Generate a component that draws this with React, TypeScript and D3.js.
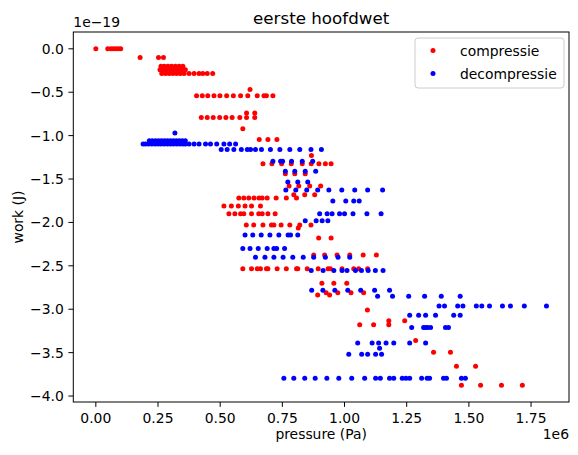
import * as d3 from "d3"

// pressure in 1e6 Pa, work in 1e-19 J; each row = one work level and its pressures
const compressieRows: [number, number[]][] = [
  [0, [0, 0.048, 0.06, 0.07, 0.08, 0.09, 0.1]],
  [-0.1, [0.178, 0.252, 0.272]],
  [-0.2, [0.262, 0.275, 0.29, 0.305, 0.32, 0.335, 0.35]],
  [-0.24, [0.258, 0.27, 0.285, 0.3, 0.315, 0.33, 0.345, 0.36]],
  [-0.285, [0.265, 0.28, 0.295, 0.31, 0.325, 0.34, 0.355, 0.375, 0.395, 0.415, 0.43, 0.448, 0.47]],
  [-0.47, [0.62]],
  [-0.54, [0.405, 0.428, 0.45, 0.475, 0.499, 0.526, 0.553, 0.582, 0.611, 0.649, 0.676, 0.686, 0.712]],
  [-0.74, [0.606, 0.639]],
  [-0.79, [0.424, 0.448, 0.472, 0.498, 0.523, 0.548, 0.579, 0.606, 0.639]],
  [-0.92, [0.591]],
  [-1.046, [0.657, 0.692, 0.728]],
  [-1.23, [0.867]],
  [-1.323, [0.672, 0.708, 0.747, 0.786, 0.83, 0.866, 0.897, 0.923, 0.946]],
  [-1.44, [0.762, 0.8, 0.842]],
  [-1.58, [0.777, 0.816, 0.86, 0.904]],
  [-1.68, [0.796, 0.84, 0.88]],
  [-1.72, [0.575, 0.595, 0.615, 0.636, 0.656, 0.669, 0.689, 0.725, 0.766, 0.807]],
  [-1.81, [0.515, 0.545, 0.573, 0.6, 0.626, 0.662]],
  [-1.9, [0.535, 0.559, 0.582, 0.595, 0.626, 0.655, 0.669, 0.692, 0.721]],
  [-2.03, [0.605, 0.635, 0.672, 0.706, 0.716, 0.745, 0.78, 0.82, 0.865]],
  [-2.065, [0.814]],
  [-2.18, [0.896, 0.946]],
  [-2.376, [0.876, 0.92, 0.97, 1.021, 1.075, 1.128]],
  [-2.534, [0.591, 0.626, 0.649, 0.662, 0.686, 0.692, 0.729, 0.766, 0.807, 0.812, 0.85, 0.894, 0.934, 0.943, 0.99, 1.037, 1.057, 1.093]],
  [-2.7, [0.909, 0.957, 1.009]],
  [-2.81, [0.926, 0.973, 1.026, 1.077]],
  [-2.835, [0.892, 0.94]],
  [-3.01, [1.092]],
  [-3.134, [1.178, 1.242]],
  [-3.18, [1.061, 1.117, 1.178]],
  [-3.36, [1.286]],
  [-3.495, [1.358, 1.426]],
  [-3.656, [1.45, 1.527]],
  [-3.875, [1.47, 1.547, 1.631, 1.715]],
]

const decompressieRows: [number, number[]][] = [
  [-0.97, [0.318]],
  [-1.058, [0.215, 0.227, 0.24, 0.252, 0.264, 0.276, 0.288, 0.3, 0.312, 0.324, 0.336, 0.348, 0.36]],
  [-1.096, [0.19, 0.2, 0.212, 0.225, 0.238, 0.25, 0.262, 0.275, 0.288, 0.3, 0.312, 0.325, 0.338, 0.35, 0.36, 0.375, 0.395, 0.415, 0.441, 0.461, 0.486, 0.515, 0.538, 0.562]],
  [-1.16, [0.504, 0.528, 0.555, 0.585, 0.609, 0.622, 0.642, 0.666, 0.702, 0.74, 0.78, 0.82, 0.865, 0.907]],
  [-1.295, [0.712, 0.743, 0.751, 0.787, 0.83, 0.872]],
  [-1.41, [0.762, 0.8, 0.842, 0.884]],
  [-1.534, [0.772, 0.812, 0.852]],
  [-1.626, [0.764, 0.804, 0.848, 0.892, 0.937, 0.989, 1.041, 1.093, 1.153]],
  [-1.753, [0.953, 1.005, 1.037, 1.059]],
  [-1.9, [0.9, 0.93, 0.95, 0.98, 1.0, 1.034, 1.09, 1.147]],
  [-1.98, [0.842, 0.886, 0.91, 0.933]],
  [-2.145, [0.6, 0.631, 0.665, 0.7, 0.736, 0.773, 0.783, 0.812]],
  [-2.3, [0.591, 0.62, 0.653, 0.689, 0.716, 0.727, 0.759]],
  [-2.4, [0.642, 0.68, 0.716, 0.753, 0.792, 0.834, 0.876, 0.923, 0.974, 1.021]],
  [-2.553, [0.866, 0.914, 0.957, 0.99, 1.01, 1.044, 1.068, 1.095, 1.124, 1.155]],
  [-2.78, [0.868, 0.913, 0.961, 1.013, 1.065, 1.121, 1.181]],
  [-2.85, [1.133, 1.193, 1.258, 1.322, 1.389, 1.465]],
  [-2.964, [1.38, 1.402, 1.455, 1.476, 1.53, 1.552, 1.583, 1.635, 1.667, 1.723, 1.812]],
  [-3.07, [1.262, 1.298, 1.326, 1.366, 1.439, 1.465]],
  [-3.21, [1.27, 1.318, 1.326, 1.334, 1.346, 1.406, 1.418]],
  [-3.39, [1.053, 1.111, 1.137, 1.167, 1.198, 1.262, 1.326]],
  [-3.45, [1.141]],
  [-3.52, [1.017, 1.069, 1.093, 1.125, 1.149]],
  [-3.795, [0.756, 0.796, 0.84, 0.882, 0.929, 0.977, 1.029, 1.081, 1.125, 1.144, 1.181, 1.198, 1.232, 1.247, 1.262, 1.31, 1.332, 1.342, 1.398, 1.41, 1.47, 1.486]],
]

const xTicks = [0, 0.25, 0.5, 0.75, 1.0, 1.25, 1.5, 1.75]
const yTicks = [0, -0.5, -1.0, -1.5, -2.0, -2.5, -3.0, -3.5, -4.0]

const series = [
  { name: "compressie", color: "#ff0000", rows: compressieRows },
  { name: "decompressie", color: "#0000ff", rows: decompressieRows },
]

const W = 578
const H = 455
const plot = { left: 73.3, right: 569, top: 32, bottom: 402 }
const font = "DejaVu Sans, sans-serif"
const fs = 13.9
const minus = (s: string) => s.replace("-", "\u2212")

export default function App() {
  const points = series.map((s) => ({
    ...s,
    pts: s.rows.flatMap(([w, ps]) => ps.map((p) => [p, w] as [number, number])),
  }))
  const all = points.flatMap((s) => s.pts)
  const [x0, x1] = d3.extent(all, (d) => d[0]) as [number, number]
  const [y0, y1] = d3.extent(all, (d) => d[1]) as [number, number]
  const px = (x1 - x0) * 0.05
  const py = (y1 - y0) * 0.05

  const x = d3.scaleLinear().domain([x0 - px, x1 + px]).range([plot.left, plot.right])
  const y = d3.scaleLinear().domain([y0 - py, y1 + py]).range([plot.bottom, plot.top])

  const cx = (plot.left + plot.right) / 2

  return (
    <svg width={W} height={H} style={{ position: "absolute", left: 0, top: 0, background: "#fff" }} fontFamily={font}>
      <rect width={W} height={H} fill="#fff" />
      {points.map((s) => (
        <g key={s.name} fill={s.color}>
          {s.pts.map((d, i) => (
            <circle key={i} cx={x(d[0])} cy={y(d[1])} r={2.5} />
          ))}
        </g>
      ))}
      <rect
        x={plot.left}
        y={plot.top}
        width={plot.right - plot.left}
        height={plot.bottom - plot.top}
        fill="none"
        stroke="#000"
        strokeWidth={1}
      />
      {/* x axis */}
      {xTicks.map((t) => (
        <g key={t} transform={`translate(${x(t)},${plot.bottom})`}>
          <line y2={4.9} stroke="#000" strokeWidth={1} />
          <text y={21} textAnchor="middle" fontSize={fs} fill="#000">
            {t.toFixed(2)}
          </text>
        </g>
      ))}
      {/* y axis */}
      {yTicks.map((t) => (
        <g key={t} transform={`translate(${plot.left},${y(t)})`}>
          <line x2={-4.9} stroke="#000" strokeWidth={1} />
          <text x={-9.5} dy="0.36em" textAnchor="end" fontSize={fs} fill="#000">
            {minus(t.toFixed(1))}
          </text>
        </g>
      ))}
      <text x={plot.left} y={27} fontSize={fs}>1e{"\u2212"}19</text>
      <text x={plot.right} y={439} textAnchor="end" fontSize={fs}>1e6</text>
      <text x={cx} y={439} textAnchor="middle" fontSize={fs}>pressure (Pa)</text>
      <text transform={`translate(23,${(plot.top + plot.bottom) / 2}) rotate(-90)`} textAnchor="middle" fontSize={fs}>
        work (J)
      </text>
      <text x={cx} y={24} textAnchor="middle" fontSize={16.7}>eerste hoofdwet</text>
      {/* legend */}
      <g transform="translate(415,38)">
        <rect width={149} height={50} rx={3} fill="#fff" fillOpacity={0.8} stroke="#cccccc" strokeWidth={1} />
        {series.map((s, i) => (
          <g key={s.name} transform={`translate(0,${12.5 + i * 23})`}>
            <circle cx={18} cy={0} r={2.5} fill={s.color} />
            <text x={45} dy="0.36em" fontSize={fs}>{s.name}</text>
          </g>
        ))}
      </g>
    </svg>
  )
}
